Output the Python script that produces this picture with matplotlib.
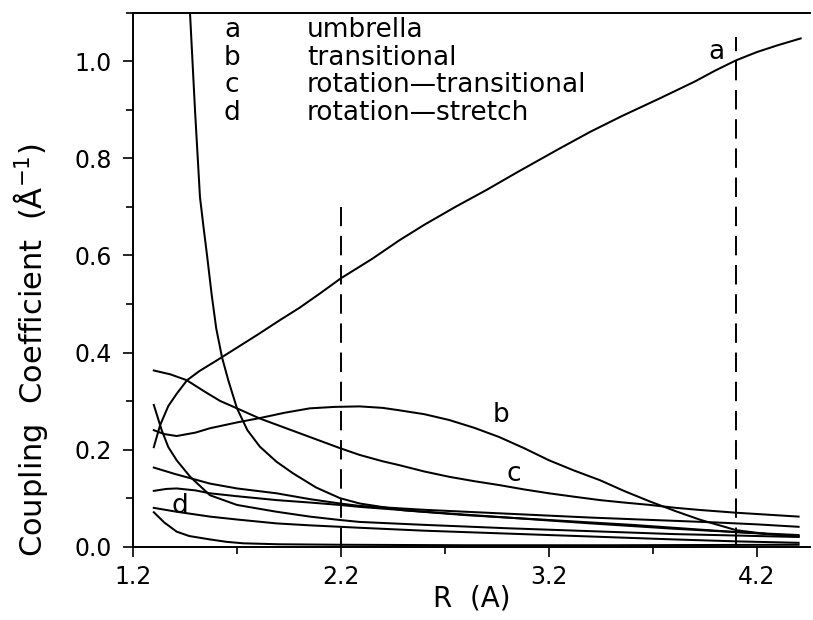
import matplotlib
matplotlib.use("Agg")
import matplotlib.pyplot as plt
from matplotlib.ticker import MultipleLocator, FixedLocator, FormatStrFormatter

# ---- data ----
a_x = [1.30, 1.33, 1.37, 1.41, 1.46, 1.52, 1.60, 1.70, 1.80, 1.90, 2.00, 2.10, 2.20,
       2.35, 2.48, 2.60, 2.75, 2.90, 3.05, 3.25, 3.40, 3.55, 3.73, 3.90, 4.00, 4.10,
       4.20, 4.30, 4.41]
a_y = [0.205, 0.25, 0.29, 0.315, 0.343, 0.362, 0.383, 0.41, 0.437, 0.465, 0.492, 0.522,
       0.553, 0.593, 0.631, 0.663, 0.70, 0.735, 0.772, 0.820, 0.855, 0.887, 0.923, 0.958,
       0.981, 1.002, 1.019, 1.033, 1.047]

b_x = [1.30, 1.35, 1.41, 1.50, 1.57, 1.70, 1.81, 1.93, 2.05, 2.17, 2.29, 2.40, 2.48,
       2.60, 2.72, 2.84, 2.96, 3.08, 3.20, 3.32, 3.445, 3.56, 3.686, 3.81, 3.93, 4.02,
       4.10, 4.25, 4.40]
b_y = [0.240, 0.232, 0.228, 0.235, 0.244, 0.256, 0.265, 0.276, 0.285, 0.288, 0.289,
       0.286, 0.281, 0.273, 0.261, 0.245, 0.226, 0.203, 0.178, 0.157, 0.137, 0.115,
       0.093, 0.073, 0.055, 0.044, 0.034, 0.026, 0.021]

c_x = [1.30, 1.38, 1.458, 1.55, 1.62, 1.70, 1.81, 1.93, 2.05, 2.195, 2.29, 2.40, 2.48,
       2.60, 2.72, 2.84, 2.96, 3.08, 3.20, 3.32, 3.445, 3.56, 3.686, 3.81, 3.93, 4.10,
       4.25, 4.40]
c_y = [0.363, 0.355, 0.343, 0.318, 0.300, 0.285, 0.264, 0.245, 0.226, 0.203, 0.189,
       0.176, 0.168, 0.155, 0.144, 0.135, 0.127, 0.118, 0.110, 0.103, 0.096, 0.091,
       0.086, 0.080, 0.0755, 0.070, 0.066, 0.062]

d_x = [1.30, 1.41, 1.57, 1.70, 1.89, 2.05, 2.195, 2.29, 2.60, 3.00, 3.40, 3.80, 4.10, 4.40]
d_y = [0.080, 0.072, 0.062, 0.056, 0.048, 0.044, 0.041, 0.039, 0.033, 0.027, 0.021,
       0.015, 0.011, 0.008]

# other (unlabelled) curves
e_x = [1.474, 1.486, 1.498, 1.510, 1.522, 1.540, 1.556, 1.578, 1.60, 1.628, 1.658, 1.70,
       1.75, 1.81, 1.89, 1.97, 2.08, 2.195, 2.29, 2.50, 2.80, 3.20, 3.60, 4.00, 4.40]
e_y = [1.10, 1.00, 0.90, 0.81, 0.72, 0.655, 0.60, 0.52, 0.45, 0.39, 0.343, 0.285,
       0.24, 0.206, 0.175, 0.151, 0.122, 0.100, 0.089, 0.075, 0.065, 0.055, 0.045,
       0.033, 0.022]

f_x = [1.30, 1.338, 1.37, 1.41, 1.475, 1.57, 1.70, 1.89, 2.05, 2.195, 2.29, 2.60, 3.00,
       3.40, 3.80, 4.10, 4.40]
f_y = [0.292, 0.240, 0.205, 0.178, 0.144, 0.106, 0.086, 0.072, 0.062, 0.055, 0.051,
       0.045, 0.038, 0.032, 0.026, 0.023, 0.020]

g_x = [1.30, 1.40, 1.57, 1.70, 1.89, 2.05, 2.195, 2.29, 2.60, 3.00, 3.40, 3.70, 4.00,
       4.20, 4.40]
g_y = [0.163, 0.150, 0.130, 0.120, 0.110, 0.098, 0.089, 0.084, 0.076, 0.068, 0.060,
       0.055, 0.050, 0.046, 0.041]

h_x = [1.30, 1.36, 1.41, 1.50, 1.57, 1.70, 1.89, 2.05, 2.195, 2.29, 2.60, 3.00, 3.40,
       3.80, 4.10, 4.40]
h_y = [0.115, 0.119, 0.120, 0.116, 0.110, 0.104, 0.096, 0.091, 0.086, 0.082, 0.072,
       0.060, 0.048, 0.037, 0.030, 0.024]

i_x = [1.30, 1.35, 1.41, 1.47, 1.57, 1.65, 1.73, 1.90, 2.20, 2.80, 3.50, 4.40]
i_y = [0.071, 0.050, 0.031, 0.022, 0.015, 0.010, 0.007, 0.005, 0.004, 0.003, 0.003, 0.004]

legend_keys = ["a", "b", "c", "d"]
legend_names = ["umbrella", "transitional", "rotation\u2014transitional", "rotation\u2014stretch"]

x_major = [1.2, 2.2, 3.2, 4.2]
x_minor = [1.7, 2.7, 3.7]

# ---- figure ----
fig = plt.figure(figsize=(8.13, 6.2), dpi=100)
L, R, T, B = 133, 810, 12.7, 546.7
ax = fig.add_axes([L / 813, 1 - B / 620, (R - L) / 813, (B - T) / 620])

lw = 1.45
for xs, ys in [(a_x, a_y), (b_x, b_y), (c_x, c_y), (d_x, d_y), (e_x, e_y),
               (f_x, f_y), (g_x, g_y), (h_x, h_y), (i_x, i_y)]:
    ax.plot(xs, ys, color="black", lw=lw, solid_joinstyle="round")

# dashed vertical markers
ax.plot([2.2, 2.2], [0.0, 0.70], color="black", lw=1.4, linestyle=(0, (10, 5)))
ax.plot([4.1, 4.1], [0.0, 1.05], color="black", lw=1.4, linestyle=(0, (10, 5)))

ax.set_xlim(1.2, 1.2 + (R - L) / 208.0)
ax.set_ylim(0.0, 1.1)

ax.xaxis.set_major_locator(FixedLocator(x_major))
ax.xaxis.set_minor_locator(FixedLocator(x_minor))
ax.xaxis.set_major_formatter(FormatStrFormatter("%.1f"))
ax.yaxis.set_major_locator(MultipleLocator(0.2))
ax.yaxis.set_minor_locator(MultipleLocator(0.1))
ax.yaxis.set_major_formatter(FormatStrFormatter("%.1f"))

ax.tick_params(which="major", direction="out", length=7.2, width=1.2, labelsize=17, pad=6)
ax.tick_params(axis="y", which="major", pad=8)
ax.tick_params(which="minor", direction="out", length=5, width=1.2)
ax.spines["right"].set_visible(False)
for s in ["left", "bottom", "top"]:
    ax.spines[s].set_linewidth(1.4)

ax.set_xlabel("R  (A)", fontsize=20, va="top")
ax.xaxis.set_label_coords(0.5, (B - 584) / (B - T))
ax.set_ylabel("Coupling  Coefficient  (\u00c5$^{-1}$)", fontsize=22, va="center")
ax.yaxis.set_label_coords((31 - L) / (R - L), (B - 350) / (B - T))

# legend block (text)
base_rows = [1.049, 0.993, 0.936, 0.879]
for k, n, yv in zip(legend_keys, legend_names, base_rows):
    ax.text(1.2 + (232 - L) / 208.0, yv, k, fontsize=19, ha="center", va="baseline")
    ax.text(1.2 + (307 - L) / 208.0, yv, n, fontsize=19, ha="left", va="baseline")

# curve labels
ax.text(4.003, 1.019, "a", fontsize=19, ha="center", va="center")
ax.text(2.969, 0.271, "b", fontsize=19, ha="center", va="center")
ax.text(3.032, 0.150, "c", fontsize=19, ha="center", va="center")
ax.text(1.426, 0.084, "d", fontsize=19, ha="center", va="center")

fig.savefig("out.png", dpi=100)
